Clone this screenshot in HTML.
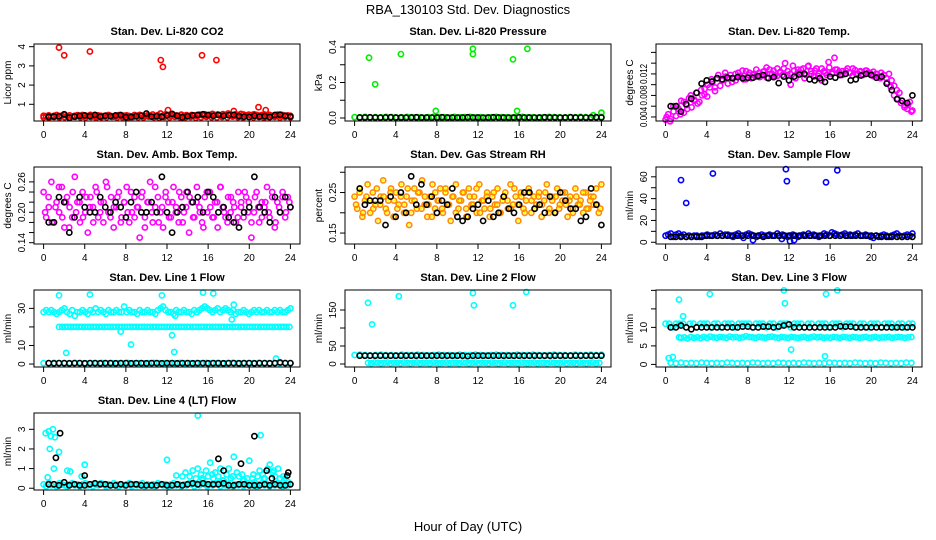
<!DOCTYPE html>
<html><head><meta charset="utf-8"><style>
body{margin:0;background:#fff;}
svg{display:block;font-family:"Liberation Sans",sans-serif;}
</style></head><body>
<svg id="chart" width="936" height="540" viewBox="0 0 936 540">
<text x="468" y="14" text-anchor="middle" font-size="13">RBA_130103  Std. Dev. Diagnostics</text>
<text x="468" y="531" text-anchor="middle" font-size="13">Hour of Day (UTC)</text>
</svg>
<script>
const xTicks = [0,4,8,12,16,20,24];

const co2Red = [0.40,0.38,0.42,0.36,0.40,0.44,0.38,0.41,0.46,0.39,0.42,0.37,0.40,0.43,0.38,0.44,0.41,0.39,0.45,0.40,0.37,0.42,0.40,0.38,0.41,0.44,0.39,0.36,0.40,0.43,0.38,0.41,0.42,0.39,0.37,0.44,0.40,0.45,0.41,0.38,0.42,0.40,0.47,0.39,0.43,0.52,0.41,0.48,0.44,0.40,0.45,0.42,0.38,0.46,0.41,0.43,0.39,0.44,0.42,0.40,0.46,0.43,0.48,0.41,0.45,0.50,0.44,0.47,0.42,0.49,0.45,0.52,0.46,0.43,0.48,0.44,0.50,0.47,0.42,0.46,0.43,0.48,0.45,0.41,0.44,0.47,0.42,0.45,0.40,0.43,0.46,0.41,0.44,0.39,0.42,0.40];
const co2Red2 = [0.32,0.30,0.34,0.31,0.33,0.30,0.35,0.32,0.31,0.34,0.30,0.33,0.32,0.35,0.31,0.33,0.30,0.34,0.32,0.31,0.36,0.33,0.30,0.34,0.32,0.35,0.31,0.33,0.34,0.30,0.32,0.35,0.33,0.31,0.34,0.32,0.36,0.33,0.31,0.35,0.32,0.34,0.30,0.33,0.35,0.31,0.34,0.32];
const co2OutX = [1.5,2.0,4.5,11.4,11.6,15.4,16.8,12.1,20.9,21.6,18.5];
const co2OutY = [3.95,3.55,3.75,3.3,2.95,3.55,3.3,0.7,0.85,0.7,0.65];
const co2Black = [0.35,0.36,0.38,0.48,0.30,0.36,0.40,0.42,0.38,0.45,0.36,0.40,0.38,0.42,0.44,0.33,0.34,0.38,0.40,0.52,0.36,0.38,0.35,0.42,0.50,0.40,0.33,0.38,0.42,0.45,0.48,0.44,0.40,0.45,0.40,0.43,0.45,0.38,0.36,0.34,0.40,0.36,0.38,0.34,0.44,0.46,0.40,0.36];

const presGreen = [0.005,0.004,0.006,0.003,0.005,0.004,0.006,0.005,0.003,0.004,0.006,0.005,0.004,0.003,0.005,0.006,0.004,0.005,0.003,0.006,0.004,0.005,0.006,0.004,0.005,0.003,0.004,0.006,0.005,0.004,0.003,0.005,0.006,0.004,0.005,0.003,0.004,0.006,0.005,0.004,0.003,0.005,0.004,0.006,0.005,0.004,0.005,0.006];
const presOutX = [1.4,2.0,4.5,7.9,11.5,11.5,15.4,16.8,15.8,24.0,23.2];
const presOutY = [0.34,0.19,0.36,0.04,0.39,0.36,0.33,0.39,0.04,0.03,0.015];
const presBlack = [0.003,0.003,0.004,0.003,0.002,0.003,0.004,0.003,0.003,0.002,0.003,0.004,0.003,0.003,0.002,0.003,0.004,0.003,0.003,0.002,0.003,0.004,0.003,0.003,0.002,0.003,0.004,0.003,0.003,0.002,0.003,0.004,0.003,0.003,0.002,0.003,0.004,0.003,0.003,0.002,0.003,0.004,0.003,0.003,0.002,0.003,0.004,0.003];

const tempMag = [0.0035,0.0045,0.0036,0.006,0.0042,0.0055,0.007,0.0048,0.0062,0.0075,0.0058,0.007,0.0085,0.0068,0.008,0.0092,0.0078,0.0095,0.0105,0.0088,0.0112,0.0098,0.0108,0.0115,0.0102,0.0118,0.0112,0.0108,0.0122,0.0115,0.0110,0.0125,0.0118,0.0112,0.0120,0.0115,0.0122,0.0118,0.0125,0.0113,0.0128,0.0120,0.0116,0.0130,0.0122,0.0118,0.0140,0.0125,0.0120,0.0135,0.0112,0.0128,0.0122,0.0130,0.0118,0.0135,0.0125,0.0115,0.0130,0.0120,0.0108,0.0125,0.0118,0.0132,0.0122,0.0150,0.0128,0.0118,0.0125,0.0120,0.0130,0.0122,0.0117,0.0127,0.0121,0.0125,0.0119,0.0126,0.0122,0.0118,0.0124,0.0120,0.0115,0.0122,0.0118,0.0112,0.0120,0.0108,0.0098,0.0090,0.0085,0.0070,0.0062,0.0055,0.0068,0.0052];
const tempMag2 = [0.0040,0.0032,0.0050,0.0060,0.0045,0.0068,0.0055,0.0080,0.0072,0.0065,0.0090,0.0082,0.0100,0.0110,0.0095,0.0118,0.0108,0.0122,0.0112,0.0105,0.0120,0.0116,0.0126,0.0110,0.0122,0.0118,0.0128,0.0114,0.0124,0.0132,0.0120,0.0126,0.0116,0.0124,0.0130,0.0118,0.0100,0.0126,0.0122,0.0128,0.0112,0.0134,0.0120,0.0126,0.0116,0.0130,0.0122,0.0142,0.0120,0.0128,0.0124,0.0118,0.0126,0.0122,0.0130,0.0120,0.0124,0.0118,0.0126,0.0122,0.0116,0.0120,0.0112,0.0118,0.0104,0.0096,0.0080,0.0074,0.0066,0.0058,0.0062,0.0050];
const tempBlack = [0.0060,0.0060,0.0050,0.0064,0.0074,0.0085,0.0102,0.0108,0.0106,0.0112,0.0110,0.0113,0.0112,0.0114,0.0112,0.0113,0.0113,0.0116,0.0118,0.0112,0.0114,0.0103,0.0115,0.0108,0.0115,0.0119,0.0120,0.0110,0.0108,0.0112,0.0105,0.0115,0.0113,0.0118,0.0120,0.0108,0.0110,0.0117,0.0120,0.0118,0.0113,0.0115,0.0102,0.0090,0.0073,0.0070,0.0066,0.0080];

const ambMag = [0.24,0.19,0.21,0.26,0.18,0.22,0.20,0.25,0.17,0.23,0.21,0.19,0.27,0.22,0.18,0.24,0.20,0.16,0.23,0.21,0.25,0.19,0.22,0.18,0.26,0.20,0.23,0.17,0.21,0.24,0.19,0.22,0.25,0.18,0.20,0.23,0.21,0.15,0.24,0.19,0.22,0.26,0.18,0.21,0.23,0.20,0.17,0.24,0.22,0.19,0.25,0.21,0.18,0.23,0.20,0.24,0.16,0.22,0.19,0.25,0.21,0.18,0.23,0.20,0.24,0.19,0.22,0.17,0.25,0.21,0.19,0.23,0.20,0.22,0.18,0.24,0.21,0.19,0.23,0.22,0.15,0.20,0.24,0.18,0.22,0.21,0.25,0.19,0.23,0.17,0.22,0.20,0.24,0.19,0.23,0.21];
const ambMag2 = [0.20,0.23,0.18,0.21,0.25,0.19,0.22,0.17,0.24,0.20,0.22,0.19,0.23,0.21,0.18,0.24,0.20,0.22,0.25,0.19,0.21,0.23,0.18,0.22,0.20,0.24,0.19,0.21,0.23,0.17,0.22,0.20,0.25,0.18,0.21,0.23,0.19,0.22,0.20,0.24,0.18,0.21,0.23,0.19,0.22,0.20,0.17,0.24,0.21,0.19,0.22,0.25,0.20,0.18,0.23,0.21,0.19,0.22,0.24,0.20,0.18,0.23,0.21,0.19,0.22,0.20,0.24,0.18,0.21,0.23,0.20,0.22];
const ambBlack = [0.18,0.18,0.23,0.22,0.16,0.19,0.23,0.21,0.20,0.20,0.23,0.21,0.20,0.22,0.21,0.19,0.22,0.24,0.20,0.20,0.22,0.20,0.27,0.20,0.16,0.20,0.21,0.24,0.22,0.23,0.20,0.24,0.23,0.20,0.21,0.19,0.18,0.17,0.20,0.21,0.27,0.21,0.20,0.18,0.23,0.20,0.23,0.21];

const rhOr = [0.24,0.21,0.26,0.19,0.23,0.27,0.20,0.25,0.22,0.18,0.24,0.28,0.21,0.23,0.26,0.19,0.25,0.22,0.27,0.20,0.24,0.17,0.23,0.26,0.21,0.25,0.28,0.22,0.19,0.24,0.27,0.21,0.23,0.26,0.20,0.25,0.22,0.18,0.24,0.27,0.21,0.23,0.25,0.19,0.26,0.22,0.24,0.20,0.27,0.23,0.21,0.25,0.19,0.24,0.22,0.26,0.20,0.23,0.25,0.21,0.27,0.22,0.24,0.18,0.25,0.21,0.23,0.26,0.20,0.24,0.22,0.25,0.19,0.23,0.27,0.21,0.24,0.20,0.26,0.22,0.23,0.25,0.19,0.24,0.21,0.26,0.22,0.23,0.20,0.25,0.21,0.24,0.22,0.26,0.20,0.27];
const rhOr2 = [0.22,0.25,0.20,0.24,0.23,0.21,0.26,0.22,0.24,0.20,0.25,0.23,0.21,0.24,0.22,0.26,0.20,0.23,0.25,0.21,0.24,0.22,0.19,0.25,0.23,0.21,0.26,0.22,0.24,0.20,0.23,0.25,0.21,0.24,0.22,0.26,0.20,0.23,0.24,0.21,0.25,0.22,0.20,0.24,0.23,0.21,0.26,0.22,0.24,0.20,0.25,0.23,0.21,0.24,0.22,0.25,0.20,0.23,0.24,0.21,0.25,0.22,0.23,0.20,0.24,0.22,0.25,0.21,0.23,0.24,0.22,0.21];
const rhBlack = [0.26,0.22,0.23,0.23,0.23,0.17,0.24,0.19,0.25,0.20,0.29,0.22,0.27,0.22,0.24,0.20,0.23,0.22,0.26,0.19,0.18,0.19,0.21,0.22,0.18,0.23,0.19,0.20,0.24,0.21,0.20,0.22,0.25,0.25,0.21,0.22,0.20,0.24,0.20,0.25,0.23,0.21,0.21,0.18,0.19,0.26,0.22,0.17];

const sfBlue = [6,7,8,5,7,8,6,7,5,6,5,6,6,5,6,6,7,6,6,7,6,8,6,7,7,6,5,7,8,6,4,7,8,7,6,5,6,7,6,6,7,6,6,8,6,7,6,5,6,7,6,5,6,7,6,8,6,7,6,5,6,8,7,6,9,8,7,6,7,8,6,7,6,7,8,6,6,7,6,5,4,6,5,6,7,6,5,6,7,8,6,5,6,7,6,8];
const sfOutX = [1.5,2.0,4.6,11.7,11.8,15.6,16.7,8.5,11.3,12.1,12.5];
const sfOutY = [57,36,63,67,56,55,66,2,3,1,2];
const sfBlack = [5,5,5,5,5,5,5,6,6,6,6,6,6,6,6,6,6,6,5,6,6,6,6,6,6,6,6,6,6,6,6,6,6,6,6,6,6,6,6,6,6,5,5,5,5,5,5,5];

const l1High = [28,29,28,29,28,27,28,29,30,28,27,29,26,28,28,29,28,27,29,28,30,28,29,28,27,29,28,28,29,28,28,31,28,29,28,28,27,29,28,28,29,28,28,27,29,30,31,29,28,28,27,29,28,28,29,28,28,27,29,28,29,30,31,30,29,28,29,30,28,29,30,29,28,29,27,28,28,29,28,27,28,29,28,29,28,28,29,28,28,29,28,29,28,28,29,30];
const l1Mid = [20,20,20,20,20,20,20,20,20,20,20,20,20,20,20,20,20,20,20,20,20,20,20,20,20,20,20,20,20,20,20,20,20,20,20,20,20,20,20,20,20,20,20,20,20,20,20,20,20,20,20,20,20,20,20,20,20,20,20,20,20,20,20,20,20,20,20,20,20,20,20,20,20,20,20,20,20,20,20,20,20];
const l1Low = [0.5,0.4,0.6,0.5,0.4,0.5,0.6,0.5,0.4,0.5,0.5,0.6,0.4,0.5,0.5,0.4,0.6,0.5,0.5,0.4,0.5,0.6,0.5,0.4,0.5,0.5,0.6,0.4,0.5,0.5,0.4,0.6,0.5,0.5,0.4,0.5,0.6,0.5,0.4,0.5,0.5,0.6,0.4,0.5,0.5,0.4,0.6,0.5];
const l1OutX = [1.5,4.5,11.5,15.5,16.5,1.5,2.2,7.5,8.5,12.5,12.7,18.3,22.6,12.8,18.5];
const l1OutY = [37,37.5,37,38.5,38,20,6,17.5,10.5,15.5,6.5,24,3,26,32];
const l1Black = [0.5,0.4,0.5,0.5,0.4,0.5,0.5,0.4,0.5,0.5,0.4,0.5,0.5,0.4,0.5,0.5,0.4,0.5,0.5,0.4,0.5,0.5,0.4,0.5,0.5,0.4,0.5,0.5,0.4,0.5,0.5,0.4,0.5,0.5,0.4,0.5,0.5,0.4,0.5,0.5,0.4,0.5,0.5,0.4,0.5,0.8,0.5,0.5];

const l2High = [25,26,25,24,25,26,25,25,24,26,25,25,26,25,24,25,26,25,25,24,26,25,25,26,25,24,25,26,25,25,24,26,25,25,26,25,24,25,26,25,25,24,26,25,25,26,25,26];
const l2Low = [3,2,4,3,2,3,4,2,3,3,2,4,3,2,3,4,2,3,3,2,4,3,2,3,4,2,3,3,2,4,3,2,3,4,2,3,3,2,4,3,2,3,4,2,3,3,2,4,3,2,3,4,2,3,3,2,4,3,2,3,4,2,3,3,2,4,3,2,3,4,2,3];
const l2OutX = [1.3,1.7,4.3,11.5,11.6,15.4,16.7];
const l2OutY = [170,110,188,197,163,163,200];
const l2Black = [23,23,23,23,23,23,23,23,23,23,23,23,23,23,23,23,23,23,23,23,23,22,23,23,23,23,23,23,23,23,23,23,23,23,23,23,23,23,23,23,23,23,23,23,23,23,23,23];

const l3High = [11,11,10,11,11,11,10,11,11,10,11,11,11,10,11,11,10,11,11,11,10,11,11,11,11,10,11,11,11,10,11,11,10,11,11,11,10,11,11,11,10,11,11,10,11,11,11,10,11,11,11,10,11,11,11,10,11,11,10,11,11,11,10,11,11,11,10,11,11,10,11,11];
const l3Mid = [7.2,7.3,7.0,7.4,7.2,7.3,7.1,7.4,7.2,7.5,7.3,7.2,7.4,7.3,7.2,7.5,7.3,7.4,7.2,7.3,7.6,7.4,7.3,7.2,7.4,7.3,7.2,7.4,7.5,7.3,7.2,7.4,7.3,7.2,7.4,7.3,7.2,7.3,7.4,7.2,7.3,7.5,7.3,7.4,7.2,7.3,7.2,7.4,7.3,7.2,7.4,7.3,7.2,7.4,7.3,7.2,7.3,7.4,7.2,7.3,7.4,7.2,7.3,7.3,7.4,7.2,7.3,7.4,7.3,7.2,7.3,7.4];
const l3Low = [0.4,0.3,0.5,0.3,0.4,0.3,0.5,0.4,0.3,0.4,0.3,0.5,0.4,0.3,0.4,0.3,0.5,0.4,0.3,0.4,0.3,0.5,0.4,0.3,0.4,0.3,0.5,0.4,0.3,0.4,0.3,0.5,0.4,0.3,0.4,0.3,0.5,0.4,0.3,0.4,0.3,0.5,0.4,0.3,0.4,0.3,0.5,0.4];
const l3OutX = [1.3,1.7,4.3,11.5,11.6,15.6,16.7,12.2,15.5,0.3,0.7,1.3];
const l3OutY = [17.5,13,19,20,16.5,19,20,4,2.2,1.7,2,7.3];
const l3Black = [10,10,10.5,10,9.5,10,10,10,10,10,10,10,10,10,10.2,10.2,10,10,10.2,10.2,10,10.2,10.5,10.8,10,10,10,10,10,10,10,10,10,10.3,10.2,10.2,10,10,10,10,10,10,10,10,10,10,10,10];

const l4Base = [0.2,0.1,0.25,0.15,0.2,0.1,0.25,0.2,0.15,0.1,0.2,0.25,0.15,0.2,0.1,0.2,0.25,0.15,0.2,0.1,0.2,0.15,0.25,0.2,0.1,0.2,0.15,0.25,0.2,0.1,0.2,0.15,0.2,0.25,0.1,0.2,0.15,0.2,0.25,0.1,0.2,0.15,0.2,0.1,0.25,0.2,0.15,0.2,0.1,0.2,0.25,0.15,0.2,0.1,0.2,0.15,0.25,0.2,0.1,0.2,0.15,0.25,0.2,0.1,0.2,0.15,0.2,0.25,0.1,0.2,0.15,0.2,0.25,0.1,0.2,0.15,0.2,0.1,0.25,0.2,0.15,0.2,0.1,0.2,0.25,0.15,0.2,0.1,0.2,0.15,0.25,0.2,0.1,0.2,0.15,0.2];
const l4LateX = [14.2,14.5,14.8,15.0,15.3,15.5,15.8,16.0,16.2,16.5,16.7,17.0,17.2,17.5,17.8,18.0,18.2,18.5,18.8,19.0,19.3,19.5,19.8,20.0,20.3,20.5,20.8,21.0,21.3,21.5,21.8,22.0,22.3,22.5,22.8,23.0,23.3,23.5,23.8,13.5,13.8,12.9,15.4,16.4,17.4,18.4,19.4,20.4,21.4,22.4,23.4];
const l4LateY = [0.6,0.9,0.5,1.0,0.7,0.4,0.9,0.6,1.3,0.5,0.8,0.6,1.0,0.4,0.7,1.0,0.5,1.6,0.8,0.6,0.7,0.4,0.5,1.4,0.5,0.3,0.6,0.9,0.7,0.5,1.0,1.2,0.8,0.6,1.0,0.5,0.6,0.5,0.3,0.6,0.8,0.65,0.5,0.7,0.4,0.6,0.4,0.7,0.5,0.9,0.4];
const l4OutX = [0.2,0.5,0.7,0.9,1.1,0.6,1.0,1.5,2.3,2.6,4.0,3.7,12.0,15.0,21.1,0.4];
const l4OutY = [2.8,2.9,2.65,3.0,2.6,2.0,1.0,1.85,0.9,0.85,1.2,0.6,1.45,3.7,2.7,0.55];
const l4Black = [0.2,0.2,0.15,0.3,0.15,0.2,0.15,0.15,0.2,0.25,0.2,0.2,0.15,0.15,0.2,0.15,0.2,0.2,0.15,0.15,0.15,0.15,0.2,0.15,0.15,0.2,0.15,0.2,0.25,0.2,0.25,0.2,0.2,0.2,0.25,0.15,0.15,0.2,0.2,0.15,0.15,0.15,0.2,0.15,0.2,0.15,0.15,0.2];
const l4BlackOutX = [1.6,1.2,4.0,17.0,17.5,19.2,20.5,21.7,22.2,23.8,23.7];
const l4BlackOutY = [2.8,1.55,0.65,1.5,0.9,1.25,2.65,0.9,0.5,0.8,0.65];

const NS = "http://www.w3.org/2000/svg";
const svg = document.getElementById('chart');
function mk(tag, attrs, parent){const e=document.createElementNS(NS,tag);for(const k in attrs)e.setAttribute(k,attrs[k]);(parent||svg).appendChild(e);return e;}
function even(n, start, end){const a=[];for(let i=0;i<n;i++)a.push(start+(end-start)*i/(n-1));return a;}

const colsX = [34, 345, 656], boxW = 266, rowsY = [44, 167, 290, 413], boxH = 77;

function panel(o){
  const L = colsX[o.col], T = rowsY[o.row], R = L + boxW, B = T + boxH;
  const g = mk('g',{});
  
  
  const xs = h => L + 9.6 + (h/24)*(boxW - 19.2);
  const ys = v => B - (v - o.lo)/(o.hi - o.lo)*boxH;
  const t = mk('text',{x:(L+R)/2,y:T-9,'text-anchor':'middle','font-size':11,'font-weight':'bold'},g);
  t.textContent = o.title;
  
  
  o.series.forEach(s=>{
    const sg = mk('g',{fill:'none',stroke:s.color,'stroke-width':1.6},g);
    
    
    s.y.forEach((v,i)=>{
      const cx = xs(s.x[i]), cy = ys(v);
      const c = mk('circle',{cx:cx.toFixed(1),cy:cy.toFixed(1),r:2.6},sg);
      
      
      if (s.inner){ mk('path',{d:`M${cx-1.3},${cy}h2.6M${cx},${cy-1.3}v2.6`,stroke:s.inner,'stroke-width':1},sg); }
    });
  });
  const box = mk('rect',{x:L,y:T,width:boxW,height:boxH,fill:'none',stroke:'#000','stroke-width':1},g);
  
  
  const xa = mk('g',{},g);
  
  
  xTicks.forEach(h=>{
    mk('line',{x1:xs(h),x2:xs(h),y1:B,y2:B+5,stroke:'#000'},xa);
    const tx = mk('text',{x:xs(h),y:B+17,'text-anchor':'middle','font-size':10},xa);
    tx.textContent = h;
  });
  const ya = mk('g',{},g);
  
  
  mk('line',{x1:L,x2:L,y1:ys(o.ticks[0]),y2:ys(o.ticks[o.ticks.length-1]),stroke:'#000'},ya);
  o.ticks.forEach((v,i)=>{
    const y = ys(v);
    mk('line',{x1:L-5,x2:L,y1:y,y2:y,stroke:'#000'},ya);
    if (o.labels[i] !== ''){
      const at = {x:L-9,y:y,'text-anchor':'middle','font-size':10,transform:`rotate(-90 ${L-9} ${y})`};
      if (o.labels[i].length >= 5){ at.textLength = 20; at.lengthAdjust = 'spacingAndGlyphs'; }
      const tx = mk('text',at,ya);
      tx.textContent = o.labels[i];
    }
  });
  const yl = mk('text',{x:L-23,y:(T+B)/2,'text-anchor':'middle','font-size':10,transform:`rotate(-90 ${L-23} ${(T+B)/2})`},g);
  yl.textContent = o.ylab;
  
  
}

const RED='#ff0000', GRN='#00ee00', MAG='#ff00ff', BLK='#000000', BLU='#0000ff', CYN='#00ffff', ORG='#ff8c00';

panel({name:'panel-co2',col:0,row:0,title:'Stan. Dev. Li-820 CO2',ylab:'Licor ppm',lo:0.13,hi:4.14,ticks:[1,2,3,4],labels:['1','2','3','4'],
 series:[{name:'co2-series',color:RED,x:even(96,0,24),y:co2Red},{name:'co2-series-b',color:RED,x:even(48,0,24),y:co2Red2},{name:'co2-outliers',color:RED,x:co2OutX,y:co2OutY},{name:'co2-hourly',color:BLK,x:even(48,0.5,24),y:co2Black}]});
panel({name:'panel-pressure',col:1,row:0,title:'Stan. Dev. Li-820 Pressure',ylab:'kPa',lo:-0.017,hi:0.417,ticks:[0,0.1,0.2,0.3,0.4],labels:['0.0','','0.2','','0.4'],
 series:[{name:'pressure-series',color:GRN,x:even(48,0,24),y:presGreen},{name:'pressure-outliers',color:GRN,x:presOutX,y:presOutY},{name:'pressure-hourly',color:BLK,x:even(48,0.5,24),y:presBlack}]});
panel({name:'panel-licor-temp',col:2,row:0,title:'Stan. Dev. Li-820 Temp.',ylab:'degrees C',lo:0.00325,hi:0.01756,ticks:[0.004,0.006,0.008,0.010,0.012,0.014,0.016],labels:['0.004','','0.008','','0.012','',''],
 series:[{name:'temp-series',color:MAG,x:even(96,0,24),y:tempMag},{name:'temp-series-b',color:MAG,x:even(72,0.1,23.9),y:tempMag2},{name:'temp-hourly',color:BLK,x:even(48,0.5,24),y:tempBlack}]});
panel({name:'panel-amb-box-temp',col:0,row:1,title:'Stan. Dev. Amb. Box Temp.',ylab:'degrees C',lo:0.1374,hi:0.2894,ticks:[0.14,0.16,0.18,0.20,0.22,0.24,0.26],labels:['0.14','','','0.20','','','0.26'],
 series:[{name:'amb-series',color:MAG,x:even(96,0,24),y:ambMag},{name:'amb-series-b',color:MAG,x:even(72,0.15,23.9),y:ambMag2},{name:'amb-hourly',color:BLK,x:even(48,0.5,24),y:ambBlack}]});
panel({name:'panel-gas-rh',col:1,row:1,title:'Stan. Dev. Gas Stream RH',ylab:'percent',lo:0.123,hi:0.313,ticks:[0.15,0.20,0.25,0.30],labels:['0.15','','0.25',''],
 series:[{name:'rh-series',color:ORG,inner:'#ffff00',x:even(96,0,24),y:rhOr},{name:'rh-series-b',color:ORG,inner:'#ffff00',x:even(72,0.15,23.9),y:rhOr2},{name:'rh-hourly',color:BLK,x:even(48,0.5,24),y:rhBlack}]});
panel({name:'panel-sample-flow',col:2,row:1,title:'Stan. Dev. Sample Flow',ylab:'ml/min',lo:-1.6,hi:69,ticks:[0,10,20,30,40,50,60],labels:['0','','20','','40','','60'],
 series:[{name:'sample-flow-series',color:BLU,x:even(96,0,24),y:sfBlue},{name:'sample-flow-outliers',color:BLU,x:sfOutX,y:sfOutY},{name:'sample-flow-hourly',color:BLK,x:even(48,0.5,24),y:sfBlack}]});
panel({name:'panel-line1-flow',col:0,row:2,title:'Stan. Dev. Line 1 Flow',ylab:'ml/min',lo:-1.6,hi:39.9,ticks:[0,10,20,30],labels:['0','10','','30'],
 series:[{name:'line1-high',color:CYN,x:even(96,0,24),y:l1High},{name:'line1-mid',color:CYN,x:even(81,1.8,23.9),y:l1Mid},{name:'line1-low',color:CYN,x:even(48,0,24),y:l1Low},{name:'line1-outliers',color:CYN,x:l1OutX,y:l1OutY},{name:'line1-hourly',color:BLK,x:even(48,0.5,24),y:l1Black}]});
panel({name:'panel-line2-flow',col:1,row:2,title:'Stan. Dev. Line 2 Flow',ylab:'ml/min',lo:-8.3,hi:205.6,ticks:[0,50,100,150],labels:['0','50','','150'],
 series:[{name:'line2-high',color:CYN,x:even(48,0,24),y:l2High},{name:'line2-low',color:CYN,x:even(72,1.3,23.8),y:l2Low},{name:'line2-outliers',color:CYN,x:l2OutX,y:l2OutY},{name:'line2-hourly',color:BLK,x:even(48,0.5,24),y:l2Black}]});
panel({name:'panel-line3-flow',col:2,row:2,title:'Stan. Dev. Line 3 Flow',ylab:'ml/min',lo:-0.7,hi:20.1,ticks:[0,5,10,15,20],labels:['0','5','10','',''],
 series:[{name:'line3-high',color:CYN,x:even(72,0,24),y:l3High},{name:'line3-mid',color:CYN,x:even(72,1.5,23.9),y:l3Mid},{name:'line3-low',color:CYN,x:even(48,0.5,23.9),y:l3Low},{name:'line3-outliers',color:CYN,x:l3OutX,y:l3OutY},{name:'line3-hourly',color:BLK,x:even(48,0.5,24),y:l3Black}]});
panel({name:'panel-line4-flow',col:0,row:3,title:'Stan. Dev. Line 4 (LT) Flow',ylab:'ml/min',lo:-0.09,hi:3.83,ticks:[0,1,2,3],labels:['0','1','2','3'],
 series:[{name:'line4-base',color:CYN,x:even(96,0,24),y:l4Base},{name:'line4-late',color:CYN,x:l4LateX,y:l4LateY},{name:'line4-outliers',color:CYN,x:l4OutX,y:l4OutY},{name:'line4-hourly',color:BLK,x:even(48,0.5,24),y:l4Black},{name:'line4-hourly-outliers',color:BLK,x:l4BlackOutX,y:l4BlackOutY}]});
</script>
</body></html>
